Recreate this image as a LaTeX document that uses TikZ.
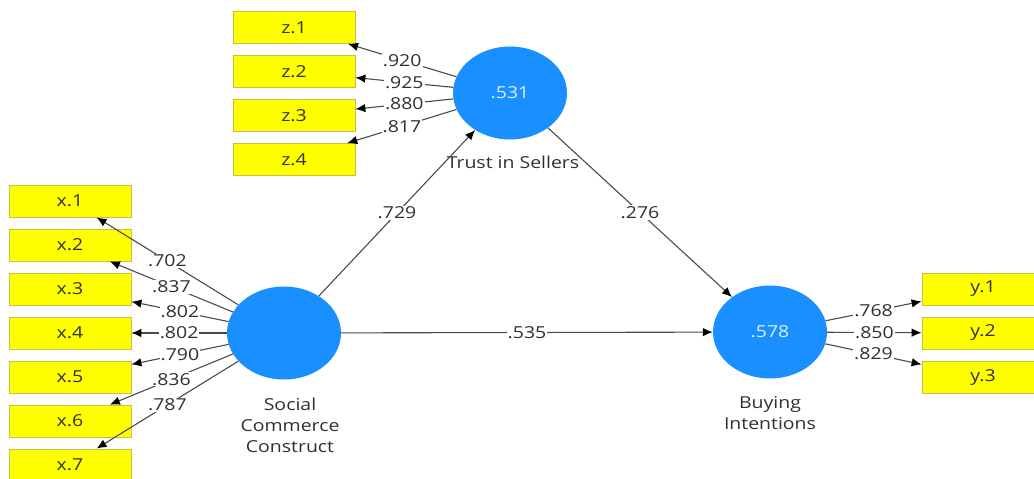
\documentclass[tikz,border=0pt]{standalone}
\usepackage{fontspec}
\setmainfont{Open Sans}[FakeStretch=1.18]
\usetikzlibrary{shapes.geometric,arrows.meta}
\definecolor{boxyel}{HTML}{FFFF00}
\definecolor{boxline}{HTML}{C8C040}
\definecolor{latblue}{HTML}{1A8FFF}
\definecolor{txtgray}{HTML}{303030}
\definecolor{linegray}{HTML}{4A4A4A}
\begin{document}
\begin{tikzpicture}[x=1pt,y=-1pt,
  ind/.style={draw=boxline,fill=boxyel,line width=0.8pt,minimum width=122pt,minimum height=32pt,inner sep=0pt,font=\fontsize{16.5}{18}\selectfont,text=txtgray},
  lat/.style={ellipse,fill=latblue,draw=none,minimum width=114pt,minimum height=93pt,inner sep=0pt,font=\fontsize{16.5}{18}\selectfont,text=white!85!latblue},
  arr/.style={draw=linegray,line width=1.1pt,-{Latex[length=10pt,width=8.5pt]},arrows={[color=black]}},
  lbl/.style={fill=white,inner sep=1pt,text=txtgray,font=\fontsize{16.5}{18}\selectfont},
  captxt/.style={text=txtgray,align=center,font=\fontsize{16.5}{21}\selectfont}]
\useasboundingbox (0,0) rectangle (1034,479);
% latent variables
\node[lat] (trust) at (510,93) {.531};
\node[lat] (soc) at (284,333) {};
\node[lat] (buy) at (770,332) {.578};
\node[captxt] (trustlbl) at (513,162) {Trust in Sellers};
\node[captxt] (soclbl) at (290,425) {Social\\Commerce\\Construct};
\node[captxt] (buylbl) at (770,413) {Buying\\Intentions};
% indicators z
\node[ind] (z1) at (294,27.5) {z.1};
\node[ind] (z2) at (294,71.5) {z.2};
\node[ind] (z3) at (294,115.5) {z.3};
\node[ind] (z4) at (294,159.5) {z.4};
% indicators x
\node[ind] (x1) at (70,201) {x.1};
\node[ind] (x2) at (70,245) {x.2};
\node[ind] (x3) at (70,289) {x.3};
\node[ind] (x4) at (70,333) {x.4};
\node[ind] (x5) at (70,377) {x.5};
\node[ind] (x6) at (70,421) {x.6};
\node[ind] (x7) at (70,465) {x.7};
% indicators y
\node[ind] (y1) at (983,289) {y.1};
\node[ind] (y2) at (983,333) {y.2};
\node[ind] (y3) at (983,377.5) {y.3};
% structural paths
\draw[arr] (soc) -- node[lbl]{.729} (trust);
\draw[arr] (trust) -- node[lbl]{.276} (buy);
\draw[arr] (soc) -- node[lbl]{.535} (buy);
% loadings
\draw[arr] (trust) -- node[lbl]{.920} (z1);
\draw[arr] (trust) -- node[lbl]{.925} (z2);
\draw[arr] (trust) -- node[lbl]{.880} (z3);
\draw[arr] (trust) -- node[lbl]{.817} (z4);
\draw[arr] (soc) -- node[lbl]{.702} (x1);
\draw[arr] (soc) -- node[lbl]{.837} (x2);
\draw[arr] (soc) -- node[lbl]{.802} (x3);
\draw[arr] (soc) -- node[lbl]{.802} (x4);
\draw[arr] (soc) -- node[lbl]{.790} (x5);
\draw[arr] (soc) -- node[lbl]{.836} (x6);
\draw[arr] (soc) -- node[lbl]{.787} (x7);
\draw[arr] (buy) -- node[lbl]{.768} (y1);
\draw[arr] (buy) -- node[lbl]{.850} (y2);
\draw[arr] (buy) -- node[lbl]{.829} (y3);
\end{tikzpicture}
\end{document}
